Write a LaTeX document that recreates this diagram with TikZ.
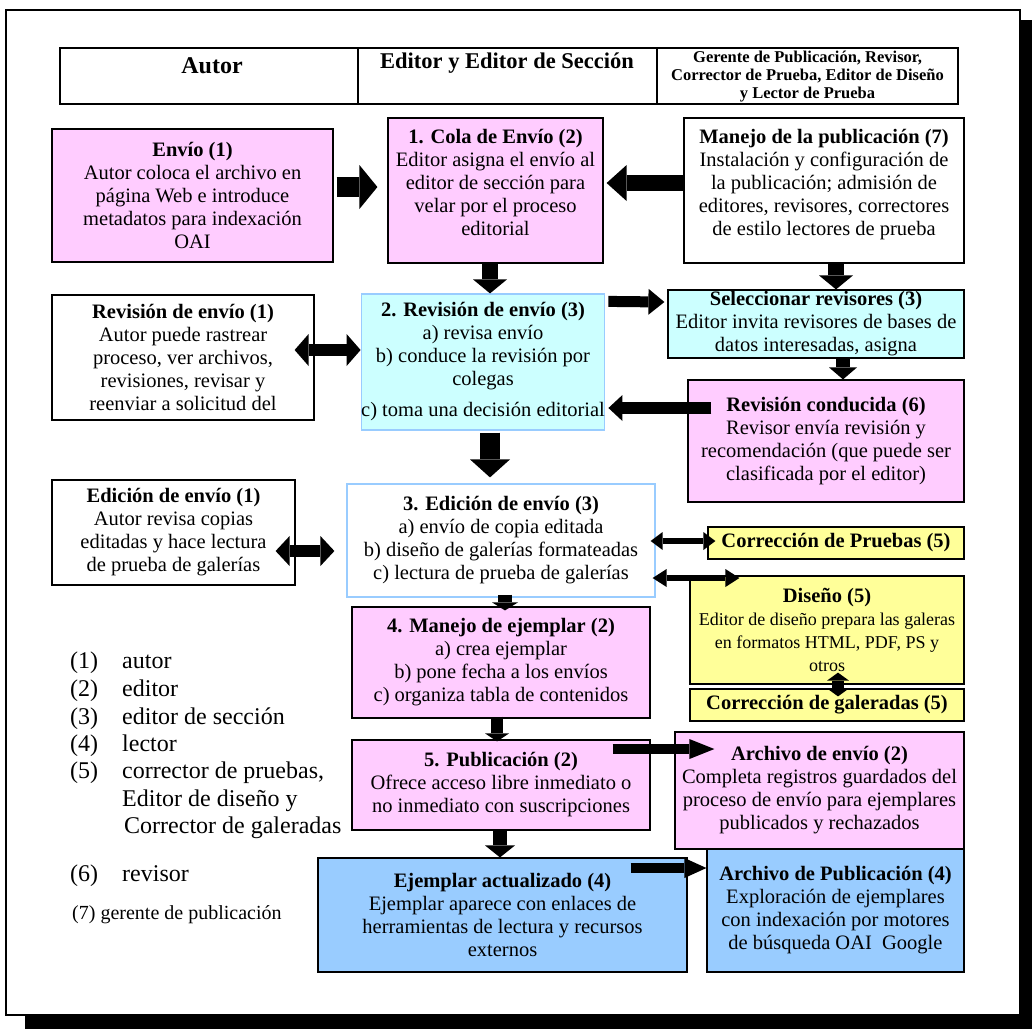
\documentclass[tikz,border=0pt]{standalone}
\usepackage{fontspec}
\setmainfont{Liberation Serif}
\usetikzlibrary{arrows.meta}
\definecolor{pinkbx}{HTML}{FFCCFF}
\definecolor{cyanbx}{HTML}{CCFFFF}
\definecolor{yellowbx}{HTML}{FFFF99}
\definecolor{bluebx}{HTML}{99CCFF}
\definecolor{lightedge}{HTML}{99CCFF}
\newcommand{\bodyf}{\fontsize{20.5}{23}\selectfont}
\newcommand{\smbodyf}{\fontsize{18}{20.5}\selectfont}
\newcommand{\legf}{\fontsize{24}{27}\selectfont}
\tikzset{
  bx/.style n args={2}{draw=black, line width=1.2pt, align=center, inner sep=0pt,
    minimum width=#1pt, minimum height=#2pt, font=\bodyf},
  hd/.style n args={2}{draw=black, line width=1.5pt, inner sep=0pt,
    minimum width=#1pt, minimum height=#2pt},
  arr/.style n args={3}{line width=#1pt,
    -{Triangle[width=#2pt,length=#3pt,line width=0pt]}},
  darr/.style n args={3}{line width=#1pt,
    {Triangle[width=#2pt,length=#3pt,line width=0pt]}-{Triangle[width=#2pt,length=#3pt,line width=0pt]}},
  lg/.style={font=\legf, anchor=west, inner sep=0pt, text height=17pt, text depth=5pt},
}
\begin{document}
\begin{tikzpicture}[x=1pt,y=-1pt]
\useasboundingbox (0,0) rectangle (1032,1029);
% outer frame with shadow
\fill[black] (1020,20) rectangle (1032,1029);
\fill[black] (25,1015) rectangle (1032,1029);
\draw[line width=2.2pt] (6,10) rectangle (1020,1015);

% header
\node[hd={298}{56}] (h1) at (209,76) {};
\node[hd={299}{56}] (h2) at (507.5,76) {};
\node[hd={301}{56}] (h3) at (807.5,76) {};
\node[font=\rmfamily\bfseries\fontsize{24}{26}\selectfont, inner sep=0pt] (h1t) at (212,66) {Autor};
\node[font=\rmfamily\bfseries\fontsize{22.5}{25}\selectfont, inner sep=0pt] (h2t) at (507,63) {Editor y Editor de Sección};
\node[font=\rmfamily\bfseries\fontsize{16.5}{18}\selectfont, inner sep=0pt, align=center] (h3t) at (807.5,77)
  {Gerente de Publicación, Revisor,\\Corrector de Prueba, Editor de Diseño\\y Lector de Prueba};

% row 1
\node[bx={281}{133}, fill=pinkbx] (envio) at (192.5,195.5)
  {\textbf{Envío (1)}\\Autor coloca el archivo en\\página Web e introduce\\metadatos para indexación\\OAI};
\node[bx={215}{145}, fill=pinkbx] (cola) at (495.5,190.5)
  {\textbf{1. Cola de Envío (2)}\\Editor asigna el envío al\\editor de sección para\\velar por el proceso\\editorial\\[-6pt]\mbox{}};
\node[bx={280}{145}, fill=white] (mpub) at (824,190.5)
  {\textbf{Manejo de la publicación (7)}\\Instalación y configuración de\\la publicación; admisión de\\editores, revisores, correctores\\de estilo lectores de prueba\\[-6pt]\mbox{}};

% row 2
\node[bx={262}{125}, fill=white] (revaut) at (183,357.5)
  {\textbf{Revisión de envío (1)}\\Autor puede rastrear\\proceso, ver archivos,\\revisiones, revisar y\\reenviar a solicitud del};
\node[bx={238}{136}, fill=cyanbx, draw=lightedge] (rev3) at (483,362)
  {\textbf{2. Revisión de envío (3)}\\a) revisa envío\\b) conduce la revisión por\\colegas\\[8pt]c) toma una decisión editorial};
\node[bx={296}{68}, fill=cyanbx] (selec) at (816,324)
  {\textbf{Seleccionar revisores (3)}\\Editor invita revisores de bases de\\datos interesadas, asigna};
\node[bx={276}{122}, fill=pinkbx] (revcond) at (826,441)
  {\textbf{Revisión conducida (6)}\\Revisor envía revisión y\\recomendación (que puede ser\\clasificada por el editor)};

% row 3
\node[bx={243}{105}, fill=white] (edaut) at (173.5,532.5)
  {\textbf{Edición de envío (1)}\\Autor revisa copias\\editadas y hace lectura\\de prueba de galerías};
\node[bx={308}{113}, fill=white, draw=lightedge] (ed3) at (501,540.5)
  {\textbf{3. Edición de envío (3)}\\a) envío de copia editada\\b) diseño de galerías formateadas\\c) lectura de prueba de galerías};
\node[bx={256}{32}, fill=yellowbx] (corrpru) at (836,543)
  {\textbf{Corrección de Pruebas (5)}};
\node[bx={274}{108}, fill=yellowbx] (diseno) at (827,630)
  {\textbf{Diseño (5)}\\{\smbodyf Editor de diseño prepara las galeras}\\{\smbodyf en formatos HTML, PDF, PS y}\\{\smbodyf otros}};
\node[bx={274}{32}, fill=yellowbx] (corrgal) at (827,705)
  {\textbf{Corrección de galeradas (5)}};

% row 4-6
\node[bx={298}{111}, fill=pinkbx] (man4) at (501,662.5)
  {\textbf{4. Manejo de ejemplar (2)}\\a) crea ejemplar\\b) pone fecha a los envíos\\c) organiza tabla de contenidos};
\node[bx={298}{90}, fill=pinkbx] (pub5) at (501,785)
  {\textbf{5. Publicación (2)}\\Ofrece acceso libre inmediato o\\no inmediato con suscripciones};
\node[bx={289}{117}, fill=pinkbx] (archenv) at (819.5,790.5)
  {\textbf{Archivo de envío (2)}\\Completa registros guardados del\\proceso de envío para ejemplares\\publicados y rechazados};
\node[bx={369}{114}, fill=bluebx] (ejact) at (502.5,915)
  {\textbf{Ejemplar actualizado (4)}\\Ejemplar aparece con enlaces de\\herramientas de lectura y recursos\\externos};
\node[bx={257}{123}, fill=bluebx] (archpub) at (835.5,910.5)
  {\textbf{Archivo de Publicación (4)}\\Exploración de ejemplares\\con indexación por motores\\de búsqueda OAI\ \ Google};

% legend
\node[lg] (l1n) at (70,662) {(1)};  \node[lg] (l1t) at (122,662) {autor};
\node[lg] (l2n) at (70,690) {(2)};  \node[lg] (l2t) at (122,690) {editor};
\node[lg] (l3n) at (70,718) {(3)};  \node[lg] (l3t) at (122,718) {editor de sección};
\node[lg] (l4n) at (70,745) {(4)};  \node[lg] (l4t) at (122,745) {lector};
\node[lg] (l5n) at (70,772) {(5)};  \node[lg] (l5t) at (122,772) {corrector de pruebas,};
\node[lg] (l5b) at (122,800) {Editor de diseño y};
\node[lg] (l5c) at (124,827) {Corrector de galeradas};
\node[lg] (l6n) at (70,875) {(6)};  \node[lg] (l6t) at (122,875) {revisor};
\node[font=\fontsize{20}{22}\selectfont, anchor=west, inner sep=0pt] (l7) at (72,915) {(7) gerente de publicación};

% arrows
\draw[arr={20}{44}{18}] ([xshift=3pt,yshift=8.5pt]envio.east) -- ([xshift=-10pt,yshift=3.5pt]cola.west);
\draw[arr={16}{36}{20}] ([yshift=7.5pt]mpub.west) -- ([xshift=3pt,yshift=7.5pt]cola.east);
\draw[arr={16}{34}{14}] ([xshift=-5.5pt]cola.south) -- ([xshift=7pt]rev3.north);
\draw[arr={16}{34}{14}] ([xshift=12pt]mpub.south) -- ([xshift=20pt]selec.north);
\draw[darr={12}{32}{14}] ([xshift=-20pt,yshift=7.5pt]revaut.east) -- ([yshift=12pt]rev3.west);
\draw[arr={11}{26}{16}] ([xshift=3pt,yshift=-8pt]rev3.north east) -- ([xshift=-3pt,yshift=22pt]selec.west);
\draw[arr={14}{28}{12}] ([xshift=27pt]selec.south) -- ([xshift=17pt]revcond.north);
\draw[arr={12}{26}{14}] ([xshift=24pt,yshift=33pt]revcond.west) -- ([xshift=3pt,yshift=-46pt]rev3.east);
\draw[arr={20}{40}{18}] ([xshift=7pt,yshift=-2pt]rev3.south) -- ([xshift=-11pt,yshift=6pt]ed3.north);
\draw[darr={12}{30}{14}] ([xshift=-20pt,yshift=-18.5pt]edaut.east) -- ([xshift=-12pt,yshift=-10.5pt]ed3.west);
\draw[darr={6}{18}{12}] ([xshift=-5pt,yshift=-0.5pt]ed3.east) -- ([xshift=8pt,yshift=2pt]corrpru.west);
\draw[darr={6}{18}{14}] ([xshift=-3pt,yshift=-37.5pt]ed3.east) -- ([xshift=50pt,yshift=52pt]diseno.west);
\draw[arr={14}{26}{8}] ([xshift=4pt,yshift=3pt]ed3.south) -- ([xshift=4pt,yshift=-4pt]man4.north);
\draw[darr={12}{22}{8}] ([xshift=11pt,yshift=12pt]diseno.south) -- ([xshift=11pt,yshift=-8pt]corrgal.north);
\draw[arr={12}{24}{8}] ([xshift=-4pt,yshift=2pt]man4.south) -- ([xshift=-4pt,yshift=-2pt]pub5.north);
\draw[arr={10}{20}{25}] ([xshift=-38pt,yshift=36pt]pub5.east) -- ([xshift=40pt,yshift=41.5pt]archenv.west);
\draw[arr={14}{30}{12}] ([xshift=-1pt]pub5.south) -- ([xshift=-2.5pt]ejact.north);
\draw[arr={10}{20}{22}] ([xshift=-57pt,yshift=47pt]ejact.east) -- ([yshift=42.5pt]archpub.west);
\end{tikzpicture}
\end{document}
